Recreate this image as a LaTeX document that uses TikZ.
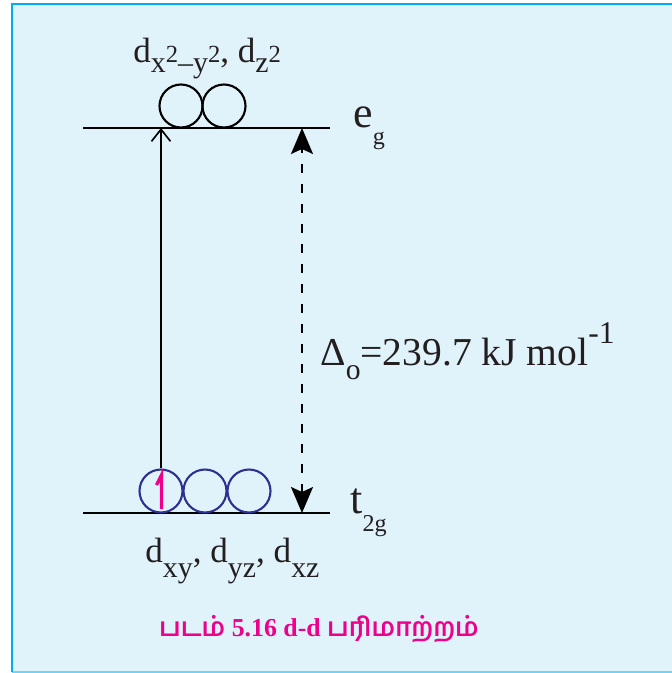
\documentclass[tikz,border=0pt]{standalone}
\usepackage{fontspec}
\setmainfont{Liberation Serif}
\newfontfamily\tamilfont[Script=Tamil]{Hind Madurai}
\usetikzlibrary{arrows.meta}
\newcommand{\lo}[3][0.85]{\raisebox{-#2}{\scalebox{#1}{#3}}}
\newcommand{\hi}[3][0.8]{\raisebox{#2}{\scalebox{#1}{#3}}}

\begin{document}
\begin{tikzpicture}[x=0.02cm,y=-0.02cm,
  level/.style={line width=1.4pt},
  orb/.style={circle,draw,line width=1.2pt,minimum size=0.86cm,inner sep=0pt},
  orbt/.style={orb,draw=orbblue},
  elec/.style={draw=elecpink,line width=1.8pt,line join=miter},
  exc/.style={line width=0.95pt,-{Straight Barb[length=2.4mm,width=3.8mm]}},
  gap/.style={line width=1.1pt,dash pattern=on 0.18cm off 0.22cm,
    {Stealth[length=5.2mm,width=4.4mm,inset=1mm]}-{Stealth[length=5.2mm,width=4.4mm,inset=1mm]}},
  lab/.style={font=\fontsize{20}{22}\selectfont,inner sep=0pt,text=ink},
  big/.style={font=\fontsize{25}{27}\selectfont,inner sep=0pt,text=ink}]
  \definecolor{panel}{HTML}{E1F3FA}
  \definecolor{edge}{HTML}{00AEEF}
  \definecolor{orbblue}{HTML}{2E3192}
  \definecolor{elecpink}{HTML}{EC008C}
  \definecolor{ink}{HTML}{231F20}
  \useasboundingbox (0,0) rectangle (672,673);
  \fill[panel] (12,4) rectangle (672,672);
  \draw[edge!55,line width=0.6pt] (12,672) -- (672,672);
  \draw[edge,line width=1.3pt] (12,672) -- (12,4) -- (672,4);

  % levels
  \coordinate (egL) at (83,128);
  \coordinate (egR) at (330,128);
  \coordinate (tgL) at (83,513);
  \coordinate (tgR) at (330,513);
  \draw[level] (egL) -- (egR);
  \draw[level] (tgL) -- (tgR);

  % orbitals
  \node[orb] (egA) at (181,106) {};
  \node[orb] (egB) at (224,106) {};
  \node[orbt] (tgA) at (161,491) {};
  \node[orbt] (tgB) at (205,491) {};
  \node[orbt] (tgC) at (249,491) {};
  \draw[elec] ([shift={(-4.5,-6)}]tgA.center) -- ([shift={(0.5,-16)}]tgA.center)
    -- ([shift={(0.5,18)}]tgA.center);

  % transitions
  \draw[exc] (tgA.north) -- (tgA.north |- egL);
  \coordinate (gapTop) at (302,128);
  \coordinate (gapBot) at (302,513);
  \draw[gap] (gapBot) -- (gapTop);

  % labels
  \node[lab, anchor=base west] (egOrb) at (133,62)
    {d\lo{6pt}{x}\hi[0.7]{0pt}{2}\lo{6pt}{--y}\hi[0.7]{0pt}{2}, d\lo{6pt}{z}\hi[0.7]{0pt}{2}};
  \node[lab, anchor=base west] (tgOrb) at (145,562)
    {d\lo{9pt}{xy}, d\lo{9pt}{yz}, d\lo{9pt}{xz}};
  \node[big, anchor=base west] (egName) at (353,127) {e\lo[0.55]{10pt}{g}};
  \node[big, anchor=base west] (tgName) at (350,513) {t\lo[0.55]{10.8pt}{2g}};
  \node[lab, font=\fontsize{22.5}{24}\selectfont, anchor=base west] (gapLab) at (320,365)
    {Δ\lo[0.75]{8.5pt}{o}=239.7 kJ mol\hi[0.8]{12pt}{-1}};
  \node[font=\bfseries\fontsize{14.7}{16}\selectfont, text=elecpink, inner sep=0pt,
    anchor=base] (cap) at (319,636)
    {{\tamilfont படம்} 5.16 d-d {\tamilfont பரிமாற்றம்}};
\end{tikzpicture}
\end{document}
